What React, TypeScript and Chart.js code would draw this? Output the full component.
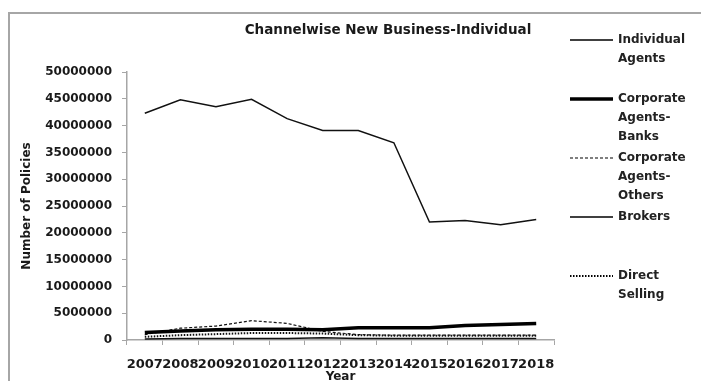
import React, { useEffect, useRef } from "react";
import { Chart, registerables } from "chart.js";

Chart.register(...registerables);

const years = ["2007", "2008", "2009", "2010", "2011", "2012", "2013", "2014", "2015", "2016", "2017", "2018"];
const individualAgents = [42300000, 44800000, 43500000, 44900000, 41300000, 39100000, 39100000, 36800000, 22000000, 22300000, 21500000, 22500000];
const corporateAgentsBanks = [1400000, 1700000, 1900000, 2000000, 2000000, 1900000, 2300000, 2300000, 2300000, 2700000, 2900000, 3100000];
const corporateAgentsOthers = [1000000, 2200000, 2600000, 3600000, 3100000, 1600000, 1000000, 900000, 900000, 900000, 900000, 900000];
const brokers = [200000, 300000, 300000, 300000, 300000, 400000, 300000, 300000, 300000, 300000, 300000, 300000];
const directSelling = [600000, 900000, 1100000, 1300000, 1300000, 1200000, 900000, 800000, 800000, 800000, 800000, 800000];
const yTicks = [0, 5000000, 10000000, 15000000, 20000000, 25000000, 30000000, 35000000, 40000000, 45000000, 50000000];

const titleText = "Channelwise New Business-Individual";
const legendLabels = [
  ["Individual", "Agents"],
  ["Corporate", "Agents-", "Banks"],
  ["Corporate", "Agents-", "Others"],
  ["Brokers"],
  ["Direct", "Selling"],
];

const FONT = "'DejaVu Sans', sans-serif";

export default function App() {
  const ref = useRef<HTMLCanvasElement | null>(null);

  useEffect(() => {
    if (!ref.current) return;

    const decor = {
      id: "decor",
      beforeDraw(chart: any) {
        const ctx = chart.ctx;
        ctx.save();
        ctx.fillStyle = "#ffffff";
        ctx.fillRect(0, 0, chart.width, chart.height);
        ctx.strokeStyle = "#a6a6a6";
        ctx.lineWidth = 2;
        ctx.beginPath();
        ctx.moveTo(chart.width + 5, 13);
        ctx.lineTo(9, 13);
        ctx.lineTo(9, chart.height + 5);
        ctx.stroke();
        ctx.restore();
      },
      afterDraw(chart: any) {
        const ctx = chart.ctx;
        ctx.save();
        ctx.fillStyle = "#1a1a1a";
        ctx.font = `bold 13.5px ${FONT}`;
        ctx.textAlign = "center";
        ctx.textBaseline = "middle";
        ctx.fillText(titleText, 388, 30);

        ctx.font = `bold 12px ${FONT}`;
        ctx.textAlign = "left";
        chart.data.datasets.forEach((ds: any, i: number) => {
          const y = 40 + i * 59;
          ctx.strokeStyle = "#000";
          ctx.lineWidth = ds.borderWidth;
          ctx.setLineDash(ds.borderDash || []);
          ctx.beginPath();
          ctx.moveTo(570, y);
          ctx.lineTo(613, y);
          ctx.stroke();
          ctx.setLineDash([]);
          legendLabels[i].forEach((t, k) => {
            ctx.fillStyle = "#222";
            ctx.fillText(t, 618, y + k * 19);
          });
        });
        ctx.restore();
      },
    };

    const chart = new Chart(ref.current, {
      type: "line",
      data: {
        labels: years,
        datasets: [
          { label: "Individual Agents", data: individualAgents, borderColor: "#111", borderWidth: 1.5, pointRadius: 0, tension: 0 },
          { label: "Corporate Agents-Banks", data: corporateAgentsBanks, borderColor: "#000", borderWidth: 3.5, pointRadius: 0, tension: 0 },
          { label: "Corporate Agents-Others", data: corporateAgentsOthers, borderColor: "#111", borderWidth: 1.2, borderDash: [3, 2], pointRadius: 0, tension: 0 },
          { label: "Brokers", data: brokers, borderColor: "#111", borderWidth: 1.5, pointRadius: 0, tension: 0 },
          { label: "Direct Selling", data: directSelling, borderColor: "#111", borderWidth: 2, borderDash: [1.5, 1.5], pointRadius: 0, tension: 0 },
        ],
      },
      options: {
        responsive: false,
        animation: false,
        layout: { padding: { left: 16, top: 72, right: 147, bottom: 0 } },
        plugins: { legend: { display: false }, title: { display: false }, tooltip: { enabled: false } },
        scales: {
          x: {
            offset: true,
            grid: { display: true, drawOnChartArea: false, offset: true, color: "#a6a6a6", tickLength: 5 },
            border: { color: "#a6a6a6", width: 1.5 },
            ticks: { color: "#1a1a1a", font: { family: FONT, size: 13, weight: "bold" }, padding: 12, maxRotation: 0, autoSkip: false },
            title: { display: true, text: "Year", color: "#1a1a1a", font: { family: FONT, size: 12, weight: "bold" }, padding: { top: 0, bottom: -3 } },
            afterFit: (s: any) => { s.height = 41; },
          },
          y: {
            min: 0,
            max: 50000000,
            afterBuildTicks: (s: any) => { s.ticks = yTicks.map((v) => ({ value: v })); },
            grid: { display: true, drawOnChartArea: false, color: "#a6a6a6", tickLength: 5 },
            border: { color: "#a6a6a6", width: 1.5 },
            ticks: { color: "#1a1a1a", font: { family: FONT, size: 12, weight: "bold" }, padding: 10, callback: (v: any) => String(v) },
            title: { display: true, text: "Number of Policies", color: "#1a1a1a", font: { family: FONT, size: 12, weight: "bold" }, padding: 4 },
            afterFit: (s: any) => { s.width = 111; },
          },
        },
      },
      plugins: [decor],
    });
    return () => chart.destroy();
  }, []);

  return (
    <div style={{ position: "fixed", left: 0, top: 0, width: 701, height: 381, background: "#fff" }}>
      <canvas ref={ref} width={701} height={381} style={{ display: "block" }} />
    </div>
  );
}
